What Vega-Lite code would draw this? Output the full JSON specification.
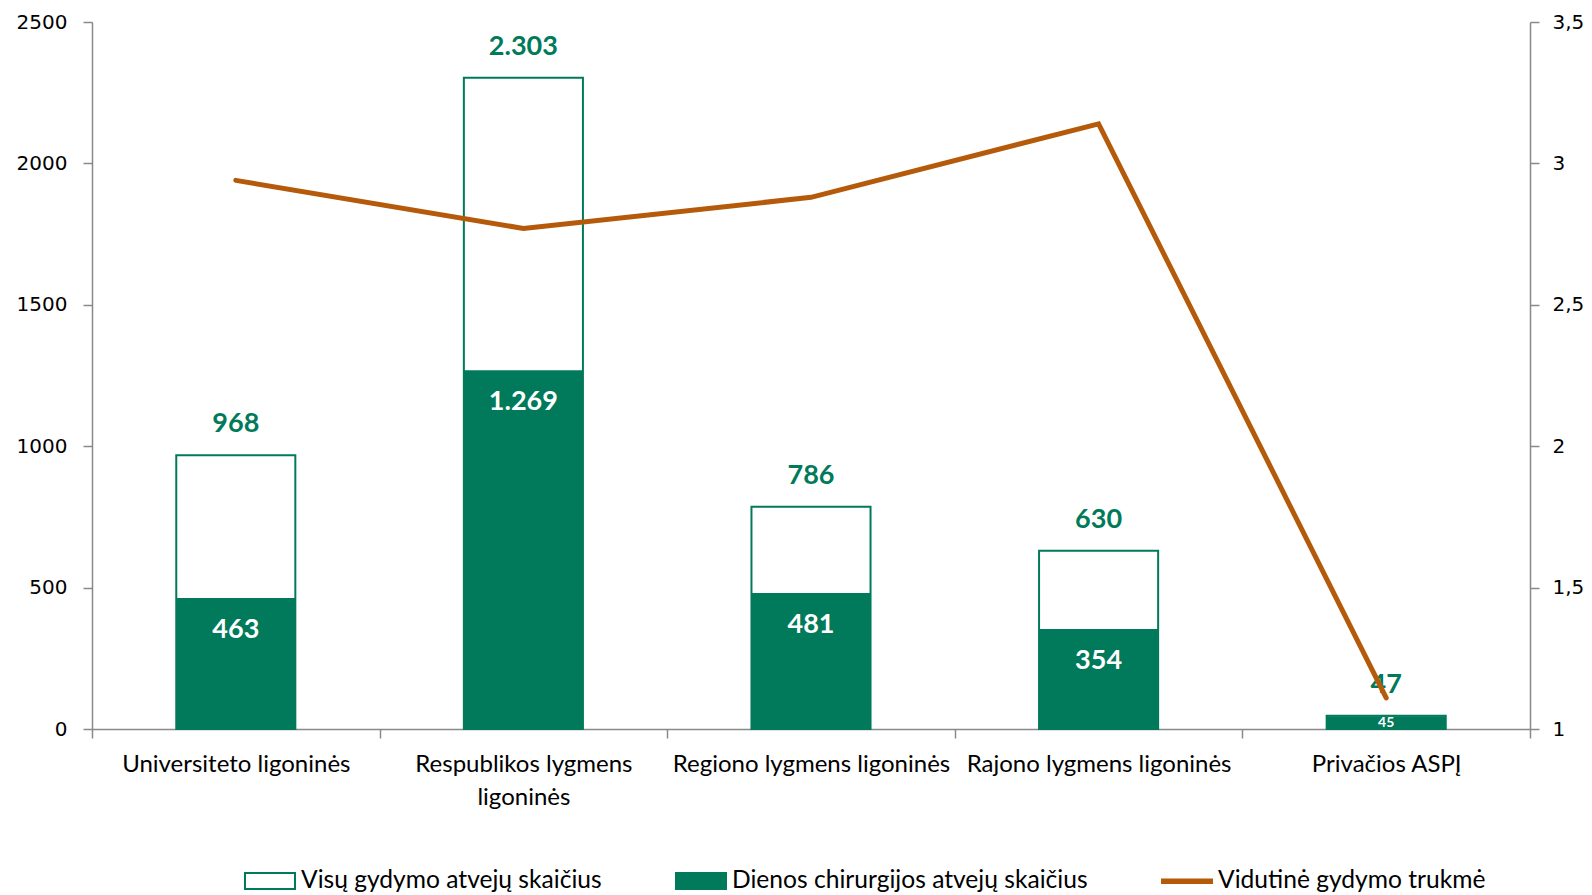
{
  "$schema": "https://vega.github.io/schema/vega-lite/v6.json",
  "width": 1438,
  "height": 707,
  "autosize": {"type": "none"},
  "padding": {"left": 92, "top": 22, "right": 62, "bottom": 166},
  "background": "white",
  "config": {
    "view": {"stroke": null},
    "locale": {"number": {"decimal": ",", "thousands": ".", "grouping": [3], "currency": ["", " €"]}}
  },
  "data": {
    "values": [
      {"cat": "Universiteto ligoninės", "total": 968, "day": 463, "avg": 2.94},
      {"cat": "Respublikos lygmens ligoninės", "total": 2303, "day": 1269, "avg": 2.77},
      {"cat": "Regiono lygmens ligoninės", "total": 786, "day": 481, "avg": 2.88},
      {"cat": "Rajono lygmens ligoninės", "total": 630, "day": 354, "avg": 3.14},
      {"cat": "Privačios ASPĮ", "total": 47, "day": 45, "avg": 1.11}
    ]
  },
  "encoding": {
    "x": {
      "field": "cat", "type": "nominal", "sort": null,
      "scale": {"paddingInner": 0, "paddingOuter": 0},
      "axis": {
        "title": null, "labelAngle": 0, "tickBand": "extent",
        "domainColor": "#898989", "domainWidth": 1.5, "tickColor": "#898989", "tickWidth": 1.5, "tickSize": 9,
        "labelFont": "Lato", "labelFontSize": 24, "labelColor": "#000000", "labelPadding": 14,
        "labelLineHeight": 33, "labelLimit": 400,
        "labelExpr": "datum.value == 'Respublikos lygmens ligoninės' ? ['Respublikos lygmens', 'ligoninės'] : datum.value"
      }
    }
  },
  "layer": [
    {
      "encoding": {
        "y": {
          "field": "total", "type": "quantitative",
          "scale": {"domain": [0, 2500], "nice": false},
          "axis": {
            "title": null, "orient": "left", "values": [0, 500, 1000, 1500, 2000, 2500], "format": "d", "grid": false,
            "domainColor": "#898989", "domainWidth": 1.5, "tickColor": "#898989", "tickWidth": 1.5, "tickSize": 9,
            "labelFont": "DejaVu Sans", "labelFontSize": 20, "labelColor": "#000000", "labelPadding": 16
          }
        }
      },
      "layer": [
        {
          "mark": {"type": "bar", "width": {"band": 0.414}, "strokeWidth": 2},
          "encoding": {
            "fill": {
              "datum": "Visų gydymo atvejų skaičius",
              "scale": {
                "domain": ["Visų gydymo atvejų skaičius", "Dienos chirurgijos atvejų skaičius", "Vidutinė gydymo trukmė"],
                "range": ["#FFFFFF", "#007A5A", "#B55A0A"]
              },
              "legend": {
                "title": null, "orient": "none", "direction": "horizontal", "legendX": 152, "legendY": 833,
                "symbolSize": 2500, "symbolStrokeWidth": 2, "symbolType": "M-1,-0.32H1V0.32H-1Z",
                "labelFont": "Lato", "labelFontSize": 24.6, "labelColor": "#000000", "labelOffset": 5, "labelLimit": 500,
                "columnPadding": 70
              }
            },
            "stroke": {
              "datum": "Visų gydymo atvejų skaičius",
              "scale": {
                "domain": ["Visų gydymo atvejų skaičius", "Dienos chirurgijos atvejų skaičius", "Vidutinė gydymo trukmė"],
                "range": ["#007A5A", "#007A5A", "#B55A0A"]
              },
              "legend": {
                "title": null, "orient": "none", "direction": "horizontal", "legendX": 152, "legendY": 833,
                "symbolSize": 2500, "symbolStrokeWidth": 2, "symbolType": "M-1,-0.32H1V0.32H-1Z",
                "labelFont": "Lato", "labelFontSize": 24.6, "labelColor": "#000000", "labelOffset": 5, "labelLimit": 500,
                "columnPadding": 70
              }
            }
          }
        },
        {
          "mark": {"type": "bar", "width": {"band": 0.414}, "strokeWidth": 0},
          "encoding": {
            "y": {"field": "day", "type": "quantitative"},
            "fill": {"datum": "Dienos chirurgijos atvejų skaičius"},
            "stroke": {"datum": "Dienos chirurgijos atvejų skaičius"}
          }
        },
        {
          "mark": {"type": "text", "font": "Lato", "fontWeight": "bold", "fontSize": 27, "color": "#007A5A", "baseline": "middle", "dy": -31},
          "encoding": {
            "text": {"field": "total", "type": "quantitative", "format": ",d"}
          }
        },
        {
          "transform": [{"filter": "datum.day >= 100"}],
          "mark": {"type": "text", "font": "Lato", "fontWeight": "bold", "fontSize": 27, "color": "white", "baseline": "middle", "dy": 32},
          "encoding": {
            "y": {"field": "day", "type": "quantitative"},
            "text": {"field": "day", "type": "quantitative", "format": ",d"}
          }
        },
        {
          "transform": [{"filter": "datum.day < 100"}],
          "mark": {"type": "text", "font": "Lato", "fontWeight": "bold", "fontSize": 14, "color": "white", "baseline": "middle", "dy": 7},
          "encoding": {
            "y": {"field": "day", "type": "quantitative"},
            "text": {"field": "day", "type": "quantitative", "format": ",d"}
          }
        }
      ]
    },
    {
      "mark": {"type": "line", "strokeWidth": 5, "strokeJoin": "miter", "strokeCap": "round"},
      "encoding": {
        "y": {
          "field": "avg", "type": "quantitative",
          "scale": {"domain": [1, 3.5], "nice": false, "zero": false},
          "axis": {
            "title": null, "orient": "right", "values": [1, 1.5, 2, 2.5, 3, 3.5], "format": ".1~f", "grid": false,
            "domainColor": "#898989", "domainWidth": 1.5, "tickColor": "#898989", "tickWidth": 1.5, "tickSize": 9,
            "labelFont": "DejaVu Sans", "labelFontSize": 20, "labelColor": "#000000", "labelPadding": 13
          }
        },
        "stroke": {
          "datum": "Vidutinė gydymo trukmė",
          "legend": {
            "title": null, "orient": "none", "direction": "horizontal", "legendX": 152, "legendY": 833,
            "symbolSize": 2500, "symbolStrokeWidth": 2, "symbolType": "M-1,-0.32H1V0.32H-1Z",
            "labelFont": "Lato", "labelFontSize": 24.6, "labelColor": "#000000", "labelOffset": 5, "labelLimit": 500,
            "columnPadding": 70,
            "encode": {
              "symbols": {
                "update": {
                  "shape": [
                    {"test": "datum.value === 'Vidutinė gydymo trukmė'", "value": "M-1,-0.07H1V0.07H-1Z"},
                    {"value": "M-1,-0.32H1V0.32H-1Z"}
                  ]
                }
              }
            }
          }
        }
      }
    }
  ],
  "resolve": {"scale": {"y": "independent"}}
}
